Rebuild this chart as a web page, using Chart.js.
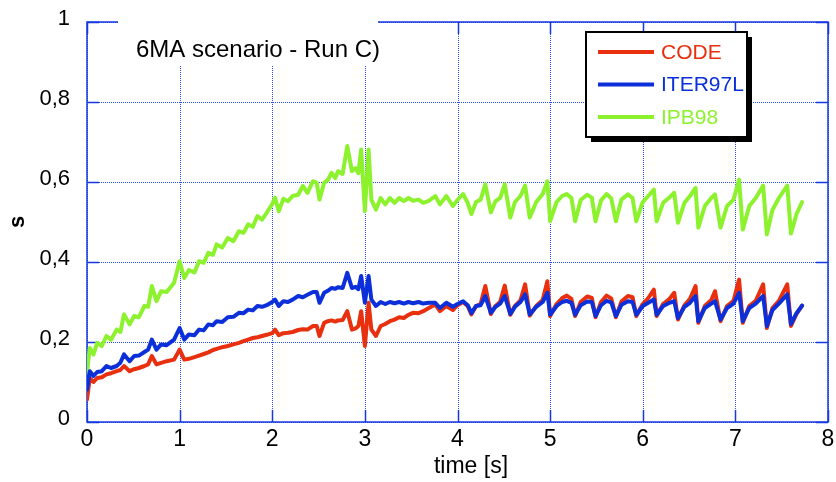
<!DOCTYPE html>
<html>
<head>
<title>6MA scenario - Run C)</title>
<script src="https://cdn.jsdelivr.net/npm/chart.js"></script>
<style>
body { margin:0; background:white; }
canvas { display:block; }
</style>
</head>
<body>
<canvas id="chart" width="836" height="482"></canvas>
<script>
// ---------------- DATA ----------------
const time = [
  0, 0.03, 0.07, 0.11, 0.16, 0.21, 0.26, 0.32, 0.36, 0.40, 0.46, 0.51, 0.56, 0.62, 0.66, 0.70, 0.75, 0.80, 0.86, 0.94,
  1.00, 1.05, 1.10, 1.16, 1.21, 1.26, 1.31, 1.36, 1.40, 1.46, 1.52, 1.58, 1.64, 1.69, 1.74, 1.79, 1.84, 1.89, 1.94, 2.00,
  2.03, 2.07, 2.12, 2.17, 2.22, 2.28, 2.33, 2.38, 2.44, 2.48, 2.51, 2.56, 2.60, 2.64, 2.68, 2.71, 2.76, 2.81, 2.86, 2.90,
  2.93, 2.96, 3.00, 3.04, 3.07, 3.12, 3.17, 3.22, 3.27, 3.32, 3.37, 3.42, 3.47, 3.52, 3.58, 3.63, 3.69, 3.76, 3.81, 3.88,
  3.95, 4.00, 4.06, 4.11, 4.15, 4.20, 4.25, 4.30, 4.36, 4.41, 4.46, 4.51, 4.57, 4.62, 4.68, 4.73, 4.78, 4.85, 4.92, 4.97,
  5.00, 5.07, 5.13, 5.18, 5.23, 5.27, 5.33, 5.40, 5.45, 5.49, 5.55, 5.61, 5.66, 5.71, 5.77, 5.84, 5.89, 5.93, 6.00, 6.06,
  6.12, 6.15, 6.22, 6.29, 6.34, 6.38, 6.45, 6.51, 6.57, 6.60, 6.67, 6.74, 6.78, 6.84, 6.91, 6.98, 7.04, 7.08, 7.15, 7.22,
  7.30, 7.34, 7.40, 7.47, 7.56, 7.60, 7.66, 7.72
];

const code = [
  0.056, 0.110, 0.100, 0.110, 0.112, 0.119, 0.122, 0.127, 0.130, 0.140, 0.127, 0.132, 0.135, 0.140, 0.144, 0.165, 0.144, 0.148, 0.152, 0.156,
  0.181, 0.156, 0.158, 0.162, 0.166, 0.170, 0.174, 0.180, 0.183, 0.187, 0.190, 0.194, 0.198, 0.202, 0.206, 0.210, 0.212, 0.215, 0.218, 0.222,
  0.231, 0.217, 0.222, 0.223, 0.225, 0.230, 0.232, 0.231, 0.240, 0.240, 0.215, 0.248, 0.252, 0.254, 0.251, 0.254, 0.255, 0.277, 0.231, 0.234,
  0.240, 0.277, 0.190, 0.298, 0.231, 0.215, 0.240, 0.245, 0.252, 0.256, 0.262, 0.260, 0.268, 0.273, 0.272, 0.277, 0.285, 0.294, 0.277, 0.290,
  0.280, 0.292, 0.300, 0.290, 0.269, 0.290, 0.295, 0.340, 0.270, 0.290, 0.300, 0.341, 0.268, 0.290, 0.304, 0.344, 0.266, 0.290, 0.305, 0.352,
  0.265, 0.295, 0.310, 0.316, 0.308, 0.265, 0.300, 0.314, 0.310, 0.262, 0.300, 0.316, 0.309, 0.262, 0.301, 0.315, 0.312, 0.265, 0.295, 0.310,
  0.331, 0.265, 0.295, 0.308, 0.323, 0.256, 0.292, 0.308, 0.340, 0.248, 0.290, 0.305, 0.327, 0.252, 0.290, 0.303, 0.356, 0.248, 0.290, 0.303,
  0.344, 0.235, 0.285, 0.303, 0.344, 0.240, 0.270, 0.291
];

const iter97l = [
  0.081, 0.127, 0.115, 0.125, 0.127, 0.140, 0.135, 0.140, 0.148, 0.169, 0.152, 0.165, 0.166, 0.175, 0.181, 0.206, 0.181, 0.194, 0.192, 0.206,
  0.235, 0.206, 0.219, 0.217, 0.231, 0.229, 0.244, 0.242, 0.252, 0.250, 0.262, 0.263, 0.273, 0.272, 0.281, 0.279, 0.290, 0.288, 0.292, 0.300,
  0.306, 0.290, 0.302, 0.300, 0.306, 0.315, 0.312, 0.318, 0.325, 0.325, 0.298, 0.323, 0.328, 0.335, 0.333, 0.337, 0.335, 0.373, 0.335, 0.338,
  0.332, 0.365, 0.298, 0.365, 0.306, 0.290, 0.300, 0.295, 0.300, 0.297, 0.300, 0.296, 0.300, 0.297, 0.300, 0.296, 0.298, 0.298, 0.285, 0.298,
  0.288, 0.295, 0.302, 0.292, 0.272, 0.290, 0.292, 0.315, 0.273, 0.288, 0.296, 0.315, 0.270, 0.288, 0.300, 0.319, 0.269, 0.288, 0.300, 0.323,
  0.268, 0.290, 0.300, 0.303, 0.298, 0.268, 0.292, 0.301, 0.300, 0.265, 0.292, 0.303, 0.299, 0.265, 0.293, 0.302, 0.300, 0.268, 0.290, 0.298,
  0.306, 0.268, 0.290, 0.298, 0.302, 0.260, 0.288, 0.298, 0.315, 0.252, 0.285, 0.296, 0.302, 0.256, 0.285, 0.296, 0.323, 0.252, 0.285, 0.296,
  0.315, 0.240, 0.280, 0.296, 0.319, 0.245, 0.272, 0.291
];

const ipb98 = [
  0.123, 0.185, 0.169, 0.198, 0.190, 0.215, 0.206, 0.231, 0.225, 0.269, 0.244, 0.265, 0.262, 0.290, 0.288, 0.340, 0.302, 0.327, 0.325, 0.348,
  0.402, 0.360, 0.380, 0.374, 0.402, 0.398, 0.423, 0.418, 0.444, 0.436, 0.460, 0.452, 0.477, 0.473, 0.494, 0.488, 0.515, 0.506, 0.523, 0.545,
  0.561, 0.527, 0.558, 0.552, 0.565, 0.568, 0.590, 0.573, 0.602, 0.598, 0.556, 0.598, 0.605, 0.623, 0.610, 0.627, 0.620, 0.690, 0.627, 0.635,
  0.622, 0.681, 0.527, 0.681, 0.556, 0.531, 0.560, 0.544, 0.560, 0.548, 0.560, 0.552, 0.560, 0.553, 0.556, 0.548, 0.553, 0.565, 0.544, 0.565,
  0.540, 0.555, 0.570, 0.548, 0.520, 0.550, 0.556, 0.594, 0.524, 0.552, 0.560, 0.594, 0.511, 0.550, 0.565, 0.591, 0.511, 0.550, 0.570, 0.602,
  0.502, 0.550, 0.565, 0.570, 0.560, 0.502, 0.555, 0.568, 0.561, 0.502, 0.554, 0.570, 0.559, 0.502, 0.556, 0.569, 0.560, 0.502, 0.550, 0.565,
  0.581, 0.502, 0.548, 0.562, 0.573, 0.498, 0.548, 0.565, 0.585, 0.486, 0.540, 0.560, 0.569, 0.486, 0.540, 0.556, 0.606, 0.481, 0.540, 0.560,
  0.591, 0.469, 0.530, 0.560, 0.591, 0.471, 0.520, 0.550
];

const seriesNames = ["CODE", "ITER97L", "IPB98"];
const seriesColors = ["#e8300f", "#0b2fd9", "#8df22e"];
const xTickValues = [0, 1, 2, 3, 4, 5, 6, 7, 8];
const yTickValues = [0, 0.2, 0.4, 0.6, 0.8, 1];

const FONT = "'Liberation Sans', Arial, Helvetica, sans-serif";
const GRID = "#2b4fe6";
const FRAME = "#1638e0";

function pts(vals){
    return vals.map((v,i) => ({x: time[i], y: v}));
}

// ---------------- DECORATION PLUGIN ----------------
const decor = {
    id: "decor",
    beforeDatasetsDraw(chart){
        const {ctx, chartArea:a, scales:{x, y}} = chart;
        ctx.save();

        // dotted grid
        ctx.strokeStyle = GRID;
        ctx.lineWidth = 1;
        ctx.setLineDash([1, 1]);
        xTickValues.forEach(v => {
            const px = Math.round(x.getPixelForValue(v)) + 0.5;
            ctx.beginPath(); ctx.moveTo(px, a.top); ctx.lineTo(px, a.bottom); ctx.stroke();
        });
        yTickValues.forEach(v => {
            const py = Math.round(y.getPixelForValue(v)) + 0.5;
            ctx.beginPath(); ctx.moveTo(a.left, py); ctx.lineTo(a.right, py); ctx.stroke();
        });
        ctx.setLineDash([]);

        // frame
        ctx.strokeStyle = FRAME;
        ctx.lineWidth = 1.5;
        ctx.strokeRect(a.left, a.top, a.right - a.left, a.bottom - a.top);

        // inward tick marks
        const tl = 12;
        yTickValues.forEach(v => {
            const py = Math.round(y.getPixelForValue(v)) + 0.5;
            ctx.beginPath();
            ctx.moveTo(a.left, py); ctx.lineTo(a.left + tl, py);
            ctx.moveTo(a.right, py); ctx.lineTo(a.right - tl, py);
            ctx.stroke();
        });
        xTickValues.forEach(v => {
            const px = Math.round(x.getPixelForValue(v)) + 0.5;
            ctx.beginPath();
            ctx.moveTo(px, a.bottom); ctx.lineTo(px, a.bottom - tl);
            ctx.moveTo(px, a.top); ctx.lineTo(px, a.top + tl);
            ctx.stroke();
        });

        // title box
        ctx.fillStyle = "white";
        ctx.fillRect(118, 16, 260, 49);
        ctx.fillStyle = "black";
        ctx.font = "24px " + FONT;
        ctx.textAlign = "center";
        ctx.textBaseline = "alphabetic";
        ctx.fillText("6MA scenario - Run C)", 258, 57);

        ctx.restore();
    },
    afterDatasetsDraw(chart){
        const {ctx} = chart;
        ctx.save();

        // legend box with shadow
        const lx = 586, ly = 32, lw = 161, lh = 105;
        ctx.fillStyle = "black";
        ctx.fillRect(lx + 5, ly + 5, lw, lh);
        ctx.fillStyle = "white";
        ctx.fillRect(lx, ly, lw, lh);
        ctx.strokeStyle = "black";
        ctx.lineWidth = 2;
        ctx.strokeRect(lx, ly, lw, lh);

        ctx.font = "21px " + FONT;
        ctx.textAlign = "left";
        ctx.textBaseline = "middle";
        seriesNames.forEach((name, i) => {
            const yy = 52 + i * 32.5;
            ctx.strokeStyle = seriesColors[i];
            ctx.lineWidth = 4;
            ctx.beginPath(); ctx.moveTo(598, yy); ctx.lineTo(654, yy); ctx.stroke();
            ctx.fillStyle = seriesColors[i];
            ctx.fillText(name, 661, yy + 1);
        });

        // axis titles
        ctx.fillStyle = "black";
        ctx.font = "23px " + FONT;
        ctx.textAlign = "center";
        ctx.fillText("time [s]", 471, 467);

        ctx.save();
        ctx.translate(18, 222);
        ctx.rotate(-Math.PI / 2);
        ctx.font = "bold 22px " + FONT;
        ctx.fillText("s", 0, 0);
        ctx.restore();

        ctx.restore();
    }
};

// ---------------- CHART ----------------
const chart = new Chart(document.getElementById("chart"), {
    type: "line",
    data: {
        datasets: [
            {label: seriesNames[0], data: pts(code), borderColor: seriesColors[0], order: 1},
            {label: seriesNames[1], data: pts(iter97l), borderColor: seriesColors[1], order: 0},
            {label: seriesNames[2], data: pts(ipb98), borderColor: seriesColors[2], order: 2}
        ]
    },
    options: {
        responsive: false,
        devicePixelRatio: 1,
        animation: false,
        events: [],
        layout: { padding: {top: 22, right: 8, left: 0, bottom: 0} },
        elements: {
            line: { borderWidth: 4, tension: 0, borderJoinStyle: "round", borderCapStyle: "round" },
            point: { radius: 0 }
        },
        plugins: { legend: {display: false}, tooltip: {enabled: false} },
        scales: {
            x: {
                type: "linear",
                min: 0, max: 8,
                afterFit: s => { s.height = 60; s.paddingLeft = 0; s.paddingRight = 0; },
                afterBuildTicks: s => { s.ticks = xTickValues.map(v => ({value: v})); },
                grid: { display: false, drawTicks: false },
                border: { display: false },
                ticks: { color: "black", padding: 4, font: {family: FONT, size: 23} }
            },
            y: {
                min: 0, max: 1,
                afterFit: s => { s.width = 87; s.paddingTop = 0; s.paddingBottom = 0; },
                afterBuildTicks: s => { s.ticks = yTickValues.map(v => ({value: v})); },
                grid: { display: false, drawTicks: false },
                border: { display: false },
                ticks: {
                    color: "black", padding: 17, labelOffset: -3,
                    font: {family: FONT, size: 22},
                    callback: v => (v === 0 || v === 1) ? String(v) : v.toFixed(1).replace(".", ",")
                }
            }
        }
    },
    plugins: [decor]
});
</script>
</body>
</html>
